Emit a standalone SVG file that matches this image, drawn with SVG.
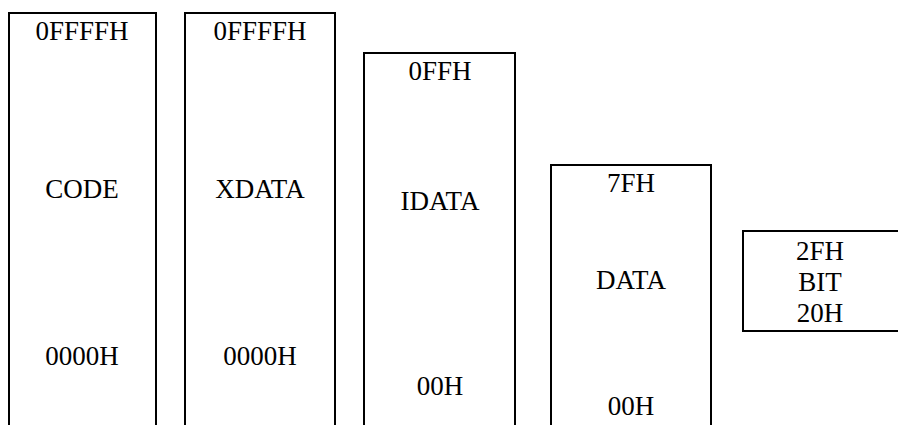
<svg xmlns="http://www.w3.org/2000/svg" width="898" height="425" viewBox="0 0 898 425">
<style>
.box{fill:none;stroke:#000;stroke-width:2}
text{font-family:"Liberation Serif","Times New Roman",serif;font-size:27px;fill:#000;text-anchor:middle}
</style>
<rect width="898" height="425" fill="#fff"/>
<g id="code">
<path class="box" d="M9,425 V13 H156 V425"/>
<text x="82" y="40">0FFFFH</text>
<text x="82" y="198">CODE</text>
<text x="82" y="365">0000H</text>
</g>
<g id="xdata">
<path class="box" d="M185,425 V13 H335 V425"/>
<text x="260" y="40">0FFFFH</text>
<text x="260" y="198">XDATA</text>
<text x="260" y="365">0000H</text>
</g>
<g id="idata">
<path class="box" d="M364,425 V53 H515 V425"/>
<text x="440" y="80">0FFH</text>
<text x="440" y="210">IDATA</text>
<text x="440" y="395">00H</text>
</g>
<g id="data">
<path class="box" d="M551,425 V165 H711 V425"/>
<text x="631" y="192">7FH</text>
<text x="631" y="289">DATA</text>
<text x="631" y="415">00H</text>
</g>
<g id="bit">
<path class="box" d="M899,231 H743 V331 H899"/>
<text x="820" y="260">2FH</text>
<text x="820" y="291">BIT</text>
<text x="820" y="322">20H</text>
</g>
<g id="connectors"></g>
</svg>
